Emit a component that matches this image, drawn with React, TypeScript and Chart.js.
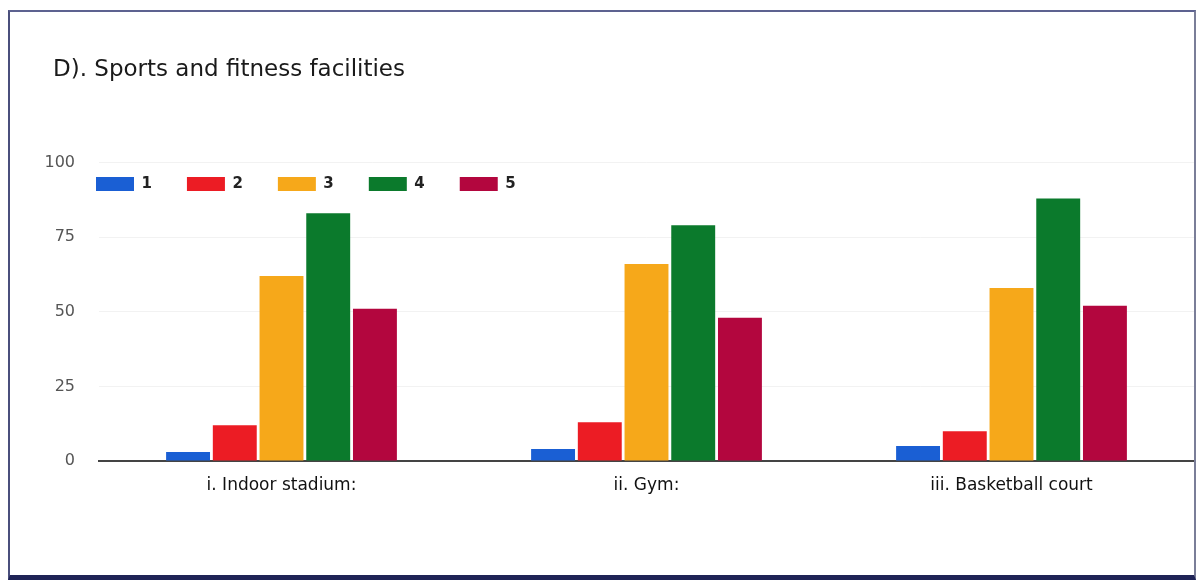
import { useEffect, useRef } from "react";
import { Chart, registerables } from "chart.js";

Chart.register(...registerables);

// Facilities rated on a 1–5 scale; counts per rating.
const categories = ["i. Indoor stadium:", "ii. Gym:", "iii. Basketball court"];
const ratingLabels = ["1", "2", "3", "4", "5"];
const rating1 = [3, 4, 5];
const rating2 = [12, 13, 10];
const rating3 = [62, 66, 58];
const rating4 = [83, 79, 88];
const rating5 = [51, 48, 52];
const yTicks = [0, 25, 50, 75, 100];
const ratingColors = ["#1a5fd4", "#ec1c24", "#f6a81a", "#0b7a2c", "#b3063e"];

const FONT = "'DejaVu Sans', 'Liberation Sans', sans-serif";

function shiftBox(box: any, dx: number, dy: number) {
  box.left += dx;
  box.right += dx;
  box.top += dy;
  box.bottom += dy;
}

// Title sits a little right of the page padding; the legend row is dropped
// into the plot area, just under the top gridline.
const boxPlacer = {
  id: "boxPlacer",
  afterLayout(chart: any) {
    const area = chart.chartArea;
    const title = chart.titleBlock;
    if (title) shiftBox(title, 53 - title.left, 0);
    const legend = chart.legend;
    if (legend) {
      const pad = legend.options.labels.padding;
      const wantLeft = area.left - 3 - pad;
      const wantTop = area.top + 14 - pad;
      shiftBox(legend, wantLeft - legend.left, wantTop - legend.top);
    }
  },
};

export default function App() {
  const canvasRef = useRef<HTMLCanvasElement | null>(null);

  useEffect(() => {
    const canvas = canvasRef.current;
    if (!canvas) return;
    const series = [rating1, rating2, rating3, rating4, rating5];
    const chart = new Chart(canvas, {
      type: "bar",
      data: {
        labels: categories,
        datasets: series.map((values, i) => ({
          label: ratingLabels[i],
          data: values,
          backgroundColor: ratingColors[i],
          borderWidth: 0,
          categoryPercentage: 0.64,
          barPercentage: 0.94,
        })),
      },
      options: {
        animation: false,
        responsive: false,
        maintainAspectRatio: false,
        layout: { padding: { left: 30, right: 6, top: 56, bottom: 73 } },
        plugins: {
          title: {
            display: true,
            text: "D). Sports and fitness facilities",
            align: "start",
            color: "#1a1a1a",
            font: { family: FONT, size: 23, weight: "normal" },
            padding: { top: 0, bottom: 19 },
          },
          legend: {
            position: "top",
            align: "start",
            labels: {
              boxWidth: 38,
              boxHeight: 14,
              padding: 35,
              color: "#222",
              font: { family: FONT, size: 15, weight: "bold" },
            },
          },
          tooltip: { enabled: false },
        },
        scales: {
          x: {
            grid: { display: false, drawTicks: false },
            border: { display: true, color: "#444", width: 2 },
            ticks: { color: "#111", font: { family: FONT, size: 17 }, padding: 14 },
            afterFit: (s: any) => {
              s.height = 50;
            },
          },
          y: {
            min: 0,
            max: 100,
            afterBuildTicks: (s: any) => {
              s.ticks = yTicks.map((v) => ({ value: v }));
            },
            grid: { color: "rgba(0,0,0,0.05)", drawTicks: false },
            border: { display: false },
            ticks: { color: "#555", font: { family: FONT, size: 16 }, padding: 24 },
            afterFit: (s: any) => {
              s.width = 69;
            },
          },
        },
      },
      plugins: [boxPlacer],
    } as any);
    return () => chart.destroy();
  }, []);

  return (
    <div
      style={{
        position: "absolute",
        left: 0,
        top: 0,
        width: 1200,
        height: 584,
        background: "#fff",
        overflow: "hidden",
      }}
    >
      <canvas
        ref={canvasRef}
        width={1200}
        height={584}
        style={{ display: "block", width: 1200, height: 584 }}
      />
      <div
        style={{
          position: "absolute",
          left: 8,
          top: 10,
          width: 1188,
          height: 570,
          boxSizing: "border-box",
          borderLeft: "2px solid #4a4f7c",
          borderTop: "2px solid #5d6290",
          borderRight: "2px solid #7a7e98",
          borderBottom: "5px solid #1f2356",
          pointerEvents: "none",
        }}
      />
    </div>
  );
}
